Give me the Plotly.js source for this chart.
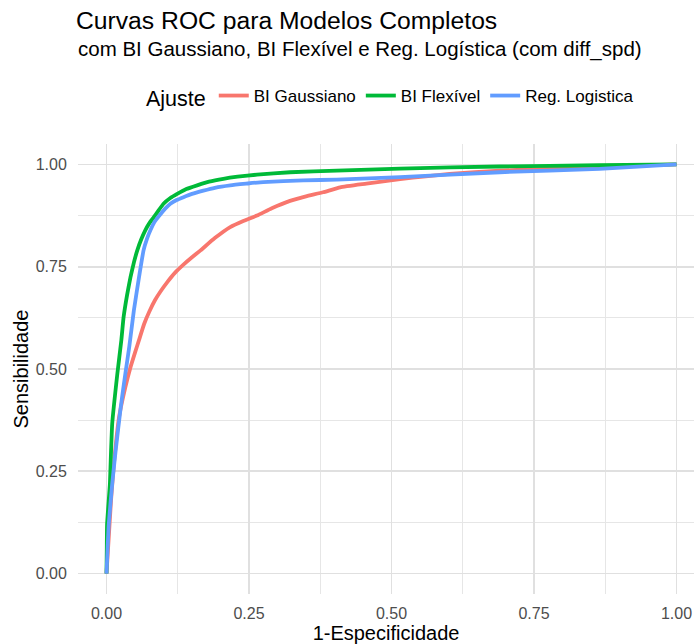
<!DOCTYPE html>
<html>
<head>
<meta charset="utf-8">
<script src="https://cdn.plot.ly/plotly-3.0.1.min.js"></script>
<style>
  html, body { margin: 0; padding: 0; background: #ffffff; }
  #chart { width: 694px; height: 644px; }
</style>
</head>
<body>
<div id="chart"></div>
<script>
// ROC curves (1-specificity vs sensitivity) for the three full models
const seriesNames = ["BI Gaussiano", "BI Flexível", "Reg. Logistica"];
const seriesColors = ["#F8766D", "#00BA38", "#619CFF"];

const fprGauss = [0, 0.004, 0.008, 0.013, 0.022, 0.033, 0.042, 0.05, 0.058, 0.066, 0.075, 0.085, 0.095,
  0.107, 0.12, 0.135, 0.15, 0.165, 0.19, 0.217, 0.24, 0.264, 0.29, 0.322, 0.35, 0.38, 0.41, 0.456,
  0.515, 0.56, 0.602, 0.69, 0.75, 0.807, 0.87, 0.93, 1.0];
const tprGauss = [0, 0.09, 0.18, 0.268, 0.382, 0.455, 0.504, 0.54, 0.575, 0.61, 0.64, 0.668, 0.69,
  0.713, 0.735, 0.755, 0.773, 0.79, 0.82, 0.847, 0.862, 0.875, 0.893, 0.911, 0.922, 0.932, 0.944, 0.953,
  0.964, 0.971, 0.977, 0.985, 0.988, 0.992, 0.994, 0.997, 1.0];

const fprFlex = [0, 0.0005, 0.001, 0.006, 0.008, 0.01, 0.019, 0.026, 0.03, 0.036, 0.042, 0.048, 0.054,
  0.061, 0.068, 0.075, 0.083, 0.092, 0.10, 0.112, 0.124, 0.14, 0.159, 0.18, 0.205, 0.23, 0.264, 0.322,
  0.404, 0.515, 0.69, 0.865, 1.0];
const tprFlex = [0, 0.06, 0.12, 0.22, 0.30, 0.366, 0.488, 0.57, 0.627, 0.68, 0.724, 0.76, 0.79,
  0.817, 0.839, 0.856, 0.871, 0.889, 0.904, 0.918, 0.928, 0.94, 0.949, 0.958, 0.965, 0.97, 0.975, 0.981,
  0.985, 0.990, 0.995, 0.998, 1.0];

const fprLogit = [0, 0.004, 0.01, 0.016, 0.025, 0.033, 0.04, 0.048, 0.057, 0.065, 0.071, 0.077, 0.085,
  0.095, 0.103, 0.112, 0.123, 0.135, 0.15, 0.17, 0.19, 0.217, 0.245, 0.275, 0.345, 0.404, 0.515, 0.69,
  0.865, 1.0];
const tprLogit = [0, 0.121, 0.219, 0.30, 0.407, 0.488, 0.555, 0.643, 0.724, 0.79, 0.818, 0.839, 0.861,
  0.879, 0.892, 0.904, 0.913, 0.92, 0.928, 0.936, 0.943, 0.949, 0.953, 0.957, 0.961, 0.963, 0.969, 0.981,
  0.989, 1.0];

const tickVals = [0, 0.25, 0.5, 0.75, 1];
const tickText = ["0.00", "0.25", "0.50", "0.75", "1.00"];

const xs = [fprGauss, fprFlex, fprLogit];
const ys = [tprGauss, tprFlex, tprLogit];

const traces = seriesNames.map((name, i) => ({
  type: "scatter",
  mode: "lines",
  name: name,
  x: xs[i],
  y: ys[i],
  line: { color: seriesColors[i], width: 3.8, shape: "spline", smoothing: 0.4 },
  hoverinfo: "skip"
}));

const FONT = "Liberation Sans, Arial, sans-serif";

const axisCommon = {
  tickvals: tickVals,
  ticktext: tickText,
  showgrid: true,
  gridcolor: "#e0e0e0",
  gridwidth: 1.6,
  minor: { dtick: 0.125, tick0: 0, showgrid: true, gridcolor: "#e6e6e6", gridwidth: 1.2 },
  zeroline: false,
  showline: false,
  ticks: "outside",
  ticklen: 5,
  tickcolor: "rgba(0,0,0,0)",
  tickfont: { family: FONT, size: 16, color: "#4d4d4d" },
  fixedrange: true
};

const layout = {
  width: 694,
  height: 644,
  margin: { l: 78, r: 0, t: 144, b: 50 },
  paper_bgcolor: "#ffffff",
  plot_bgcolor: "#ffffff",
  font: { family: FONT, color: "#000000" },
  title: {
    text: "Curvas ROC para Modelos Completos",
    font: { family: FONT, size: 24.7, color: "#000000" },
    xref: "container", x: 76 / 694, xanchor: "left",
    yref: "container", y: 1 - 20 / 644, yanchor: "middle"
  },
  annotations: [{
    text: "com BI Gaussiano, BI Flexível e Reg. Logística (com diff_spd)",
    xref: "paper", yref: "paper",
    x: -2 / 616, xanchor: "left",
    y: 1 + (144 - 49) / 450, yanchor: "middle",
    showarrow: false,
    font: { family: FONT, size: 20.5, color: "#000000" }
  }],
  xaxis: Object.assign({}, axisCommon, {
    range: [-0.05, 1.0307],
    title: { text: "1-Especificidade", font: { family: FONT, size: 20, color: "#000000" }, standoff: 5 }
  }),
  yaxis: Object.assign({}, axisCommon, {
    range: [-0.05, 1.05],
    ticklen: 7,
    title: { text: "Sensibilidade", font: { family: FONT, size: 20, color: "#000000" }, standoff: 1 }
  }),
  showlegend: true,
  legend: {
    orientation: "h",
    x: (391.5 - 78) / 616, xanchor: "center",
    y: 1 + (144 - 97) / 450, yanchor: "middle",
    title: { text: "Ajuste", font: { family: FONT, size: 21.5, color: "#000000" }, side: "left" },
    font: { family: FONT, size: 17, color: "#000000" },
    bgcolor: "rgba(0,0,0,0)",
    itemwidth: 30
  }
};

Plotly.newPlot("chart", traces, layout, { staticPlot: true, displayModeBar: false });
</script>
</body>
</html>
